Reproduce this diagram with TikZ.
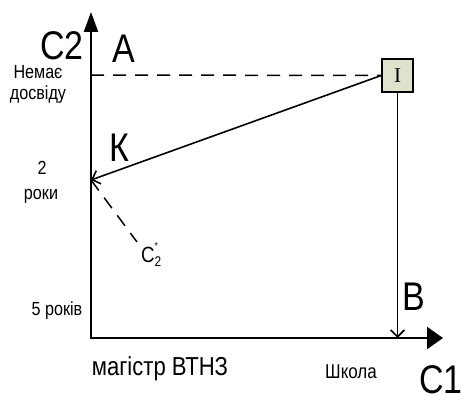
\documentclass[tikz,border=0pt]{standalone}
\usepackage{fontspec}
\setmainfont{Liberation Sans}[FakeStretch=0.85]
\newfontfamily\romfont{Liberation Serif}
\usetikzlibrary{arrows.meta}
\definecolor{boxfill}{HTML}{DFE2CC}

\begin{document}
\begin{tikzpicture}[x=1pt, y=-1pt,
    big/.style={inner sep=0pt, anchor=base, font=\fontsize{40}{40}\selectfont},
    mid/.style={inner sep=0pt, anchor=base, font=\fontsize{26}{26}\selectfont},
    small/.style={inner sep=0pt, anchor=base, font=\fontsize{19}{19}\selectfont},
    axis/.style={line width=2.2pt, {Triangle[length=20pt,width=14pt]}-{Triangle[length=16pt,width=22pt]}},
    arr/.style={line width=1.6pt, -{Straight Barb[length=7pt,width=14pt]}},
    dsh/.style={line width=1.5pt, dash pattern=on 13pt off 9pt}]
  \useasboundingbox (0,0) rectangle (462,395);

  \coordinate (ytop) at (91,12);
  \coordinate (O) at (91,338);
  \coordinate (xend) at (443,338);
  \coordinate (nd) at (91,75);
  \coordinate (k) at (91,180);
  \coordinate (b) at (397.5,338);
  \coordinate (cs) at (137,242);

  \node[draw, fill=boxfill, line width=1.6pt, minimum width=31pt, minimum height=33pt,
        inner sep=0pt, font=\romfont\fontsize{21}{21}\selectfont] (I) at (397.5,75.5) {I};

  \draw[axis] (ytop) -- (O) -- (xend);
  \draw[dsh] (nd) -- (I.west);
  \draw[arr] (I.west) -- (k);
  \draw[arr] (I.south) -- (b);
  \draw[dsh] (k) -- (cs);

  \node[big] (C2) at (62,60) {C2};
  \node[big] (A) at (124,63) {A};
  \node[big] (K) at (119,162) {К};
  \node[big] (B) at (414,310) {B};
  \node[big] (C1) at (441,393) {C1};

  \node[small] (nemae) at (38,79) {Немає};
  \node[small] (dosvidu) at (38,100) {досвіду};
  \node[small] (dva) at (42,175) {2};
  \node[small] (roky) at (41,200) {роки};
  \node[small] (pyat) at (57,315) {5 років};
  \node[mid] (mag) at (160,375) {магістр ВТНЗ};
  \node[inner sep=0pt, anchor=base, font=\fontsize{20}{20}\selectfont] (shkola) at (351,378) {Школа};
  \node[inner sep=0pt, anchor=base west, font=\fontsize{22}{22}\selectfont] (cstar) at (141,262)
    {C\rlap{\raisebox{0.55em}{\fontsize{10}{10}\selectfont *}}\raisebox{-0.2em}{\fontsize{14}{14}\selectfont 2}};
\end{tikzpicture}
\end{document}
